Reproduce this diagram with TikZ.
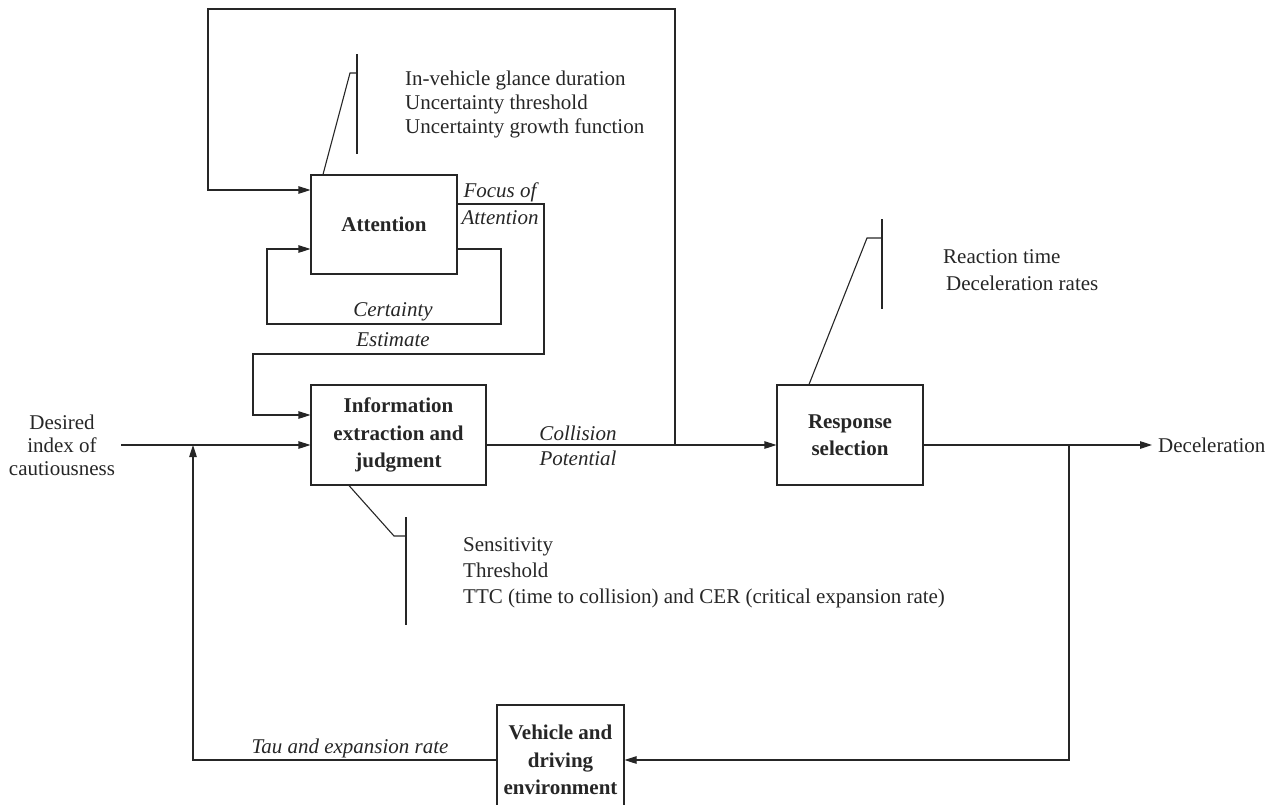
\documentclass[tikz,border=0pt]{standalone}
\usepackage{fontspec}
\setmainfont{Liberation Serif}
\usetikzlibrary{arrows.meta,calc}
\definecolor{ink}{HTML}{262626}
\begin{document}
\begin{tikzpicture}[x=1pt,y=-1pt,
  every node/.style={text=ink},
  ln/.style={draw=ink,line width=1.1pt},
  arr/.style={ln,-{Triangle[length=12pt,width=7.5pt]}},
  blk/.style={ln,rectangle,inner sep=0pt,align=center,font=\fontsize{21}{27.5}\selectfont\bfseries},
  txt/.style={inner sep=0pt,font=\fontsize{21}{25}\selectfont},
  lbl/.style={inner sep=0pt,font=\fontsize{21}{25}\selectfont\itshape}]
\useasboundingbox (0,0) rectangle (1278,804);
\clip (0,0) rectangle (1278,804);
% blocks
\node[blk,minimum width=146pt,minimum height=99pt] (att) at (384,224.5) {Attention};
\node[blk,minimum width=175pt,minimum height=100pt] (info) at (398.5,435) {Information\\extraction and\\judgment};
\node[blk,minimum width=146pt,minimum height=100pt] (resp) at (850,435) {Response\\selection};
\node[blk,minimum width=127pt,minimum height=110pt] (veh) at (560.5,760) {Vehicle and\\driving\\environment};
% texts
\node[txt,align=center,font=\fontsize{21}{23}\selectfont] (des) at (62,445) {Desired\\index of\\cautiousness};
\node[txt,anchor=west] (dec) at (1158,445) {Deceleration};
\node[txt,anchor=west,align=left,font=\fontsize{21}{24}\selectfont] (attp) at (405,104) {In-vehicle glance duration\\Uncertainty threshold\\Uncertainty growth function};
\node[txt,anchor=west,align=left,font=\fontsize{21}{27}\selectfont] (resPp) at (943,270) {Reaction time\\\hspace{3pt}Deceleration rates};
\node[txt,anchor=west,align=left,font=\fontsize{21}{26}\selectfont] (infp) at (463,573) {Sensitivity\\Threshold\\TTC (time to collision) and CER (critical expansion rate)};
\node[lbl] (foc1) at (500,192) {Focus of};
\node[lbl] (foc2) at (500,218) {Attention};
\node[lbl] (cer1) at (393,312) {Certainty};
\node[lbl] (cer2) at (393,340) {Estimate};
\node[lbl] (col1) at (578,433) {Collision};
\node[lbl] (col2) at (578,458) {Potential};
\node[lbl] (tau) at (350,748) {Tau and expansion rate};
% coordinates
\coordinate (ml) at (0,445);
\coordinate (j1) at (675,445);
\coordinate (j2) at (1069,445);
\coordinate (in) at (121,445);
\coordinate (fb) at (193,760);
\coordinate (tl) at (208,9);
% main line
\draw[arr] (in) -- (info.west |- ml);
\draw[arr] (info.east |- ml) -- (resp.west |- ml);
\draw[arr] (resp.east |- ml) -- ([xshift=-6pt]dec.west);
% top loop
\draw[arr] (j1) -- (j1 |- tl) -- (tl) -- (208,190) -- (att.west |- 0,190);
% focus of attention
\draw[arr] (att.east |- 0,204) -- (544,204) -- (544,354) -- (253,354) -- (253,415) -- (info.west |- 0,415);
% certainty loop
\draw[arr] (att.east |- 0,249) -- (501,249) -- (501,324) -- (267,324) -- (267,249) -- (att.west |- 0,249);
% output feedback
\draw[arr] (j2) -- (1069,760) -- (veh.east |- 0,760);
\draw[arr] (veh.west |- 0,760) -- (fb) -- (fb |- ml);
% parameter annotations
\draw[ln] (att.north west -| 323,0) -- (350,73) -- (357,73);
\draw[ln] (357,54) -- (357,154);
\draw[ln] (info.south west -| 349,0) -- (394,536) -- (406,536);
\draw[ln] (406,517) -- (406,625);
\draw[ln] (resp.north west -| 809,0) -- (867,238) -- (882,238);
\draw[ln] (882,219) -- (882,309);
\end{tikzpicture}
\end{document}
